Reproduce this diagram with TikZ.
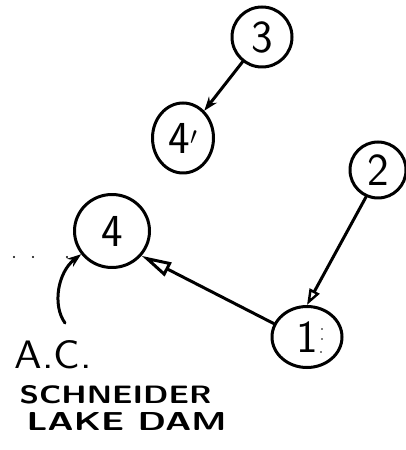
\documentclass[tikz,border=0pt]{standalone}
\usetikzlibrary{arrows.meta,shapes.geometric}
\begin{document}
\begin{tikzpicture}[x=1bp,y=-1bp,
  line width=3bp, line cap=round, line join=round,
  numnode/.style={ellipse, draw, inner sep=0pt,
    font=\fontsize{46}{46}\selectfont\sffamily},
  link/.style={-{Stealth[length=14bp,width=10bp]}},
  openlink/.style={-{Triangle[open,length=16bp,width=11bp,line width=2.4bp]}},
  bigopenlink/.style={-{Triangle[open,length=30bp,width=15bp,line width=3bp]}},
  speck/.style={fill, circle, inner sep=0pt, minimum size=2.4bp},
  caption/.style={anchor=base west, inner sep=0pt, font=\sffamily\bfseries}]
\useasboundingbox (0,0) rectangle (405,450);

% numbered points
\node[numnode, minimum width=60bp, minimum height=60bp] (n3) at (262,37) {3};
\node[numnode, minimum width=61bp, minimum height=70bp] (n4p) at (183,138) {4$'$};
\node[numnode, minimum width=56bp, minimum height=56bp] (n2) at (378,170) {2};
\node[numnode, minimum width=70bp, minimum height=61bp] (n1) at (307,337) {1};
\node[numnode, minimum width=75bp, minimum height=73bp] (n4) at (112,231) {4};

% connectors between the points
\draw[link] (n3) -- (n4p);
\draw[openlink] (n2.246) -- (n1.north);
\draw[bigopenlink] (n1.158) -- (n4.320);

% note pointing at point 4
\coordinate (notept) at (65,323);
\draw[link] (notept) .. controls (52,305) and (58,272) .. (n4.217);

% faint marks
\node[speck] (d1) at (14,257) {};
\node[speck] (d2) at (33,257) {};
\node[speck] (d3) at (67,257) {};
\node[speck, minimum size=1.8bp] (c1) at (322,329) {};
\node[speck, minimum size=1.8bp] (c2) at (322,339) {};
\node[speck, minimum size=1.8bp] (c3) at (321,352) {};

% handwritten caption
\node[caption, font=\sffamily] (t1) at (13,368) {\resizebox{77bp}{28bp}{A.C.}};
\node[caption] (t2) at (18,403) {\resizebox{192bp}{18bp}{SCHNEIDER}};
\node[caption] (t3) at (25,430) {\resizebox{200bp}{18bp}{LAKE DAM}};
\end{tikzpicture}
\end{document}
